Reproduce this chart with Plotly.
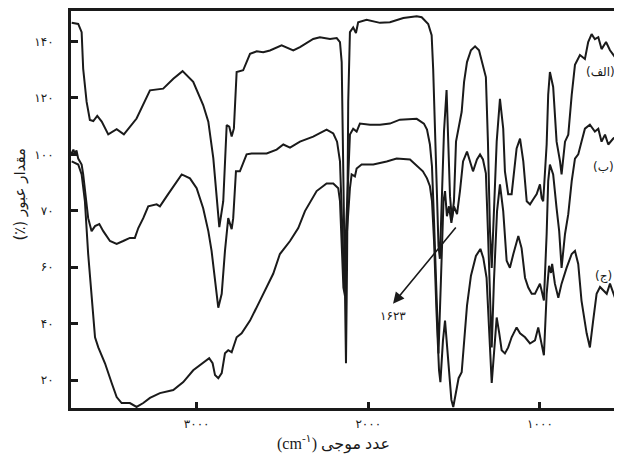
import plotly.graph_objects as go

# wavenumber (cm-1) and transmittance values
wn_a = [3728,3709,3690,3670,3661,3641,3622,3602,3579,3553,3515,3466,3424,3350,3272,3195,3136,3082,3020,2962,2932,2903,2868,2845,2825,2810,2796,2783,2767,2729,2689,2650,2612,2573,2505,2437,2398,2321,2282,2223,2184,2165,2155,2146,2136,2130,2124,2117,2107,2088,2072,2059,2010,1932,1874,1796,1718,1689,1651,1631,1622,1612,1602,1591,1583,1571,1559,1544,1533,1524,1513,1501,1489,1474,1456,1442,1425,1402,1378,1355,1338,1326,1315,1303,1291,1281,1268,1252,1233,1214,1204,1185,1165,1136,1116,1097,1077,1058,1039,1019,1000,990,981,961,952,942,923,903,883,874,854,835,815,796,767,738,719,699,680,660,641,615,592,563,544,534,522]
tr_a = [146.6,146.4,146.2,143.3,130.3,118.6,112.2,111.8,113.6,111.6,107.1,108.9,107.1,112.7,122.7,123.3,126.8,129.5,125.7,117.5,111.6,98.7,74.2,83.4,110.4,109.8,106.3,109.2,129.2,129.8,135.6,136.5,136.2,136.8,138.6,136.8,138.0,140.9,141.5,140.9,141.2,139.8,132.7,95.0,59.8,26.0,59.8,118.6,143.3,145.0,143.0,146.8,147.7,146.6,146.8,148.3,148.9,148.6,146.2,142.2,130.2,107.0,83.4,67.6,63.0,83.4,108.1,122.8,104.5,85.2,77.1,83.4,104.5,109.1,115.1,125.7,132.7,136.9,138.3,136.9,132.7,129.9,127.4,104.5,72.8,59.8,83.4,104.5,119.7,109.1,94.0,85.9,85.9,102.1,105.6,97.5,83.4,82.3,84.1,85.9,89.4,84.5,83.4,103.5,121.1,129.2,123.9,104.5,97.5,92.9,104.5,107.0,121.1,131.7,135.2,133.8,139.8,142.6,140.8,141.5,137.3,139.8,136.9,134.5,137.3,142.6,143.3]

wn_b = [3728,3718,3709,3700,3690,3670,3661,3651,3641,3632,3612,3592,3567,3544,3505,3466,3428,3389,3360,3340,3311,3282,3233,3214,3166,3126,3087,3039,3000,2962,2932,2913,2893,2874,2854,2835,2816,2806,2796,2787,2771,2748,2709,2680,2592,2534,2495,2456,2398,2321,2243,2204,2182,2165,2155,2146,2139,2130,2119,2107,2088,2068,2049,1990,1932,1874,1816,1718,1676,1658,1641,1629,1617,1602,1591,1577,1562,1553,1542,1530,1516,1501,1483,1466,1448,1425,1408,1390,1367,1349,1332,1315,1303,1291,1281,1268,1250,1233,1214,1194,1175,1155,1126,1107,1087,1068,1048,1029,1010,1000,990,977,961,952,942,923,903,888,874,854,835,815,796,777,758,738,709,680,660,641,621,602,573,544,534,522]
tr_b = [100.4,101.7,100.0,101.4,98.5,96.4,92.9,87.0,80.9,77.4,72.8,74.6,75.3,72.8,69.3,68.3,69.3,70.4,70.4,73.9,77.4,81.6,82.3,81.6,85.9,89.4,92.9,91.5,88.0,80.9,72.8,65.8,54.2,45.7,50.6,65.8,77.4,75.3,73.5,77.4,94.0,94.0,100.0,100.3,100.3,101.7,103.5,102.4,104.5,106.3,108.8,107.4,104.5,97.5,77.4,59.8,51.7,72.8,92.9,107.0,109.1,108.1,110.9,110.5,110.5,110.9,112.3,112.6,110.9,108.8,103.5,95.7,76.4,50.6,29.5,55.2,83.4,87.0,78.1,81.6,75.7,81.6,78.8,87.0,97.5,101.0,97.5,94.0,98.2,100.0,98.2,93.3,72.8,48.2,31.6,55.2,79.9,89.4,79.9,62.3,59.8,64.7,71.1,66.8,56.3,52.8,50.6,50.6,52.8,54.2,51.7,48.2,71.8,90.5,96.4,92.9,80.9,72.8,59.8,71.8,78.8,90.5,98.5,100.0,104.5,109.1,110.5,108.1,109.1,104.5,107.0,103.5,105.6,107.0,113.3,114.4]

wn_c = [3728,3690,3670,3651,3632,3612,3592,3573,3534,3495,3466,3437,3389,3350,3311,3272,3214,3136,3078,3020,2962,2927,2907,2893,2874,2854,2835,2816,2796,2767,2738,2689,2631,2554,2515,2456,2408,2369,2301,2243,2204,2175,2165,2155,2145,2136,2124,2107,2097,2078,2068,2039,1971,1893,1835,1757,1709,1682,1658,1641,1629,1617,1603,1588,1580,1565,1553,1542,1527,1516,1505,1489,1474,1456,1442,1425,1402,1373,1347,1330,1311,1297,1281,1262,1252,1237,1223,1204,1185,1165,1136,1116,1087,1058,1029,1010,990,977,961,947,936,929,913,893,874,845,815,796,777,758,728,709,690,670,650,631,611,592,563,534,522]
tr_c = [97.5,96.4,92.9,83.4,64.7,48.2,35.2,31.6,26.0,19.0,14.0,11.9,11.9,10.5,11.9,13.7,15.4,16.5,19.3,23.5,26.3,27.8,26.0,21.8,20.7,22.5,29.5,30.6,29.9,35.2,36.6,41.1,48.2,57.7,64.7,69.3,73.9,79.9,87.0,89.7,89.7,88.0,83.4,65.8,52.8,49.9,72.8,88.0,92.9,92.2,95.0,96.4,96.4,97.5,98.5,98.2,95.7,94.0,91.5,88.7,83.4,69.3,44.6,23.5,19.3,34.1,41.1,32.3,20.0,13.0,10.5,16.5,20.7,22.8,32.3,46.4,57.0,64.0,66.5,63.3,56.3,38.7,19.0,34.1,42.2,36.6,30.6,29.5,31.6,35.2,38.7,36.6,35.2,33.0,34.1,38.7,33.0,28.8,50.6,60.5,58.0,61.2,54.2,49.2,54.2,59.8,64.7,65.8,61.2,48.2,36.6,31.6,41.1,50.6,53.0,51.7,50.6,54.2,49.2,45.5,44.0]

x_tickvals = [3000, 2000, 1000]
x_ticktext = ["۳۰۰۰", "۲۰۰۰", "۱۰۰۰"]
y_tickvals = [20, 40, 60, 80, 100, 120, 140]
y_ticktext = ["۲۰", "۴۰", "۶۰", "۷۰", "۱۰۰", "۱۲۰", "۱۴۰"]

series_labels = ["(الف)", "(ب)", "(ج)"]
label_pos = [(650, 129.2), (632, 95.7), (632, 57.0)]

peak_label = "۱۶۲۳"
arrow_head = (1856, 47.1)
arrow_tail = (1483, 74.6)
peak_text_pos = (1856, 42.6)

INK = "#1a1a1a"
FONT = "DejaVu Sans"
TITLE_FONT = "Liberation Serif, DejaVu Sans"

fig = go.Figure()
for wn, tr in [(wn_a, tr_a), (wn_b, tr_b), (wn_c, tr_c)]:
    fig.add_trace(go.Scatter(x=wn, y=tr, mode="lines",
                             line=dict(color=INK, width=2.0),
                             showlegend=False, hoverinfo="skip"))

annotations = []
for txt, (xx, yy) in zip(series_labels, label_pos):
    annotations.append(dict(x=xx, y=yy, xref="x", yref="y", text=txt,
                            showarrow=False, font=dict(family=FONT, size=12, color=INK)))
annotations.append(dict(x=arrow_head[0], y=arrow_head[1], ax=arrow_tail[0], ay=arrow_tail[1],
                        xref="x", yref="y", axref="x", ayref="y", text="",
                        showarrow=True, arrowhead=2, arrowsize=1.4, arrowwidth=1.6,
                        arrowcolor=INK))
annotations.append(dict(x=peak_text_pos[0], y=peak_text_pos[1], xref="x", yref="y",
                        text=peak_label, showarrow=False,
                        font=dict(family=FONT, size=12, color=INK)))
annotations.append(dict(x=0.4755, y=-0.088, xref="paper", yref="paper",
                        xanchor="center", yanchor="middle",
                        text="(cm<sup>-۱</sup>) عدد موجی", showarrow=False,
                        font=dict(family=TITLE_FONT, size=16, color=INK)))
annotations.append(dict(x=-0.0926, y=0.54, xref="paper", yref="paper",
                        xanchor="center", yanchor="middle",
                        text="(٪) مقدار عبور", textangle=-90, showarrow=False,
                        font=dict(family=FONT, size=15, color=INK)))

# the page body adds an 8px offset; size and margins keep the page within the window
fig.update_layout(
    width=614, height=450,
    margin=dict(l=63, r=0, t=1, b=50),
    paper_bgcolor="white", plot_bgcolor="white",
    annotations=annotations,
    xaxis=dict(range=[3732, 522], showline=True, linewidth=3, linecolor=INK,
               mirror=True, ticks="inside", ticklen=6, tickwidth=2.5, tickcolor=INK,
               tickvals=x_tickvals, ticktext=x_ticktext, showgrid=False, zeroline=False,
               ticklabelstandoff=3,
               tickfont=dict(family=FONT, size=12, color=INK)),
    yaxis=dict(range=[10.14, 150.8], showline=True, linewidth=3, linecolor=INK,
               ticks="inside", ticklen=7, tickwidth=2.5, tickcolor=INK,
               tickvals=y_tickvals, ticktext=y_ticktext, showgrid=False, zeroline=False,
               ticklabelstandoff=12,
               tickfont=dict(family=FONT, size=12, color=INK)),
)

fig.write_html("out.html")
